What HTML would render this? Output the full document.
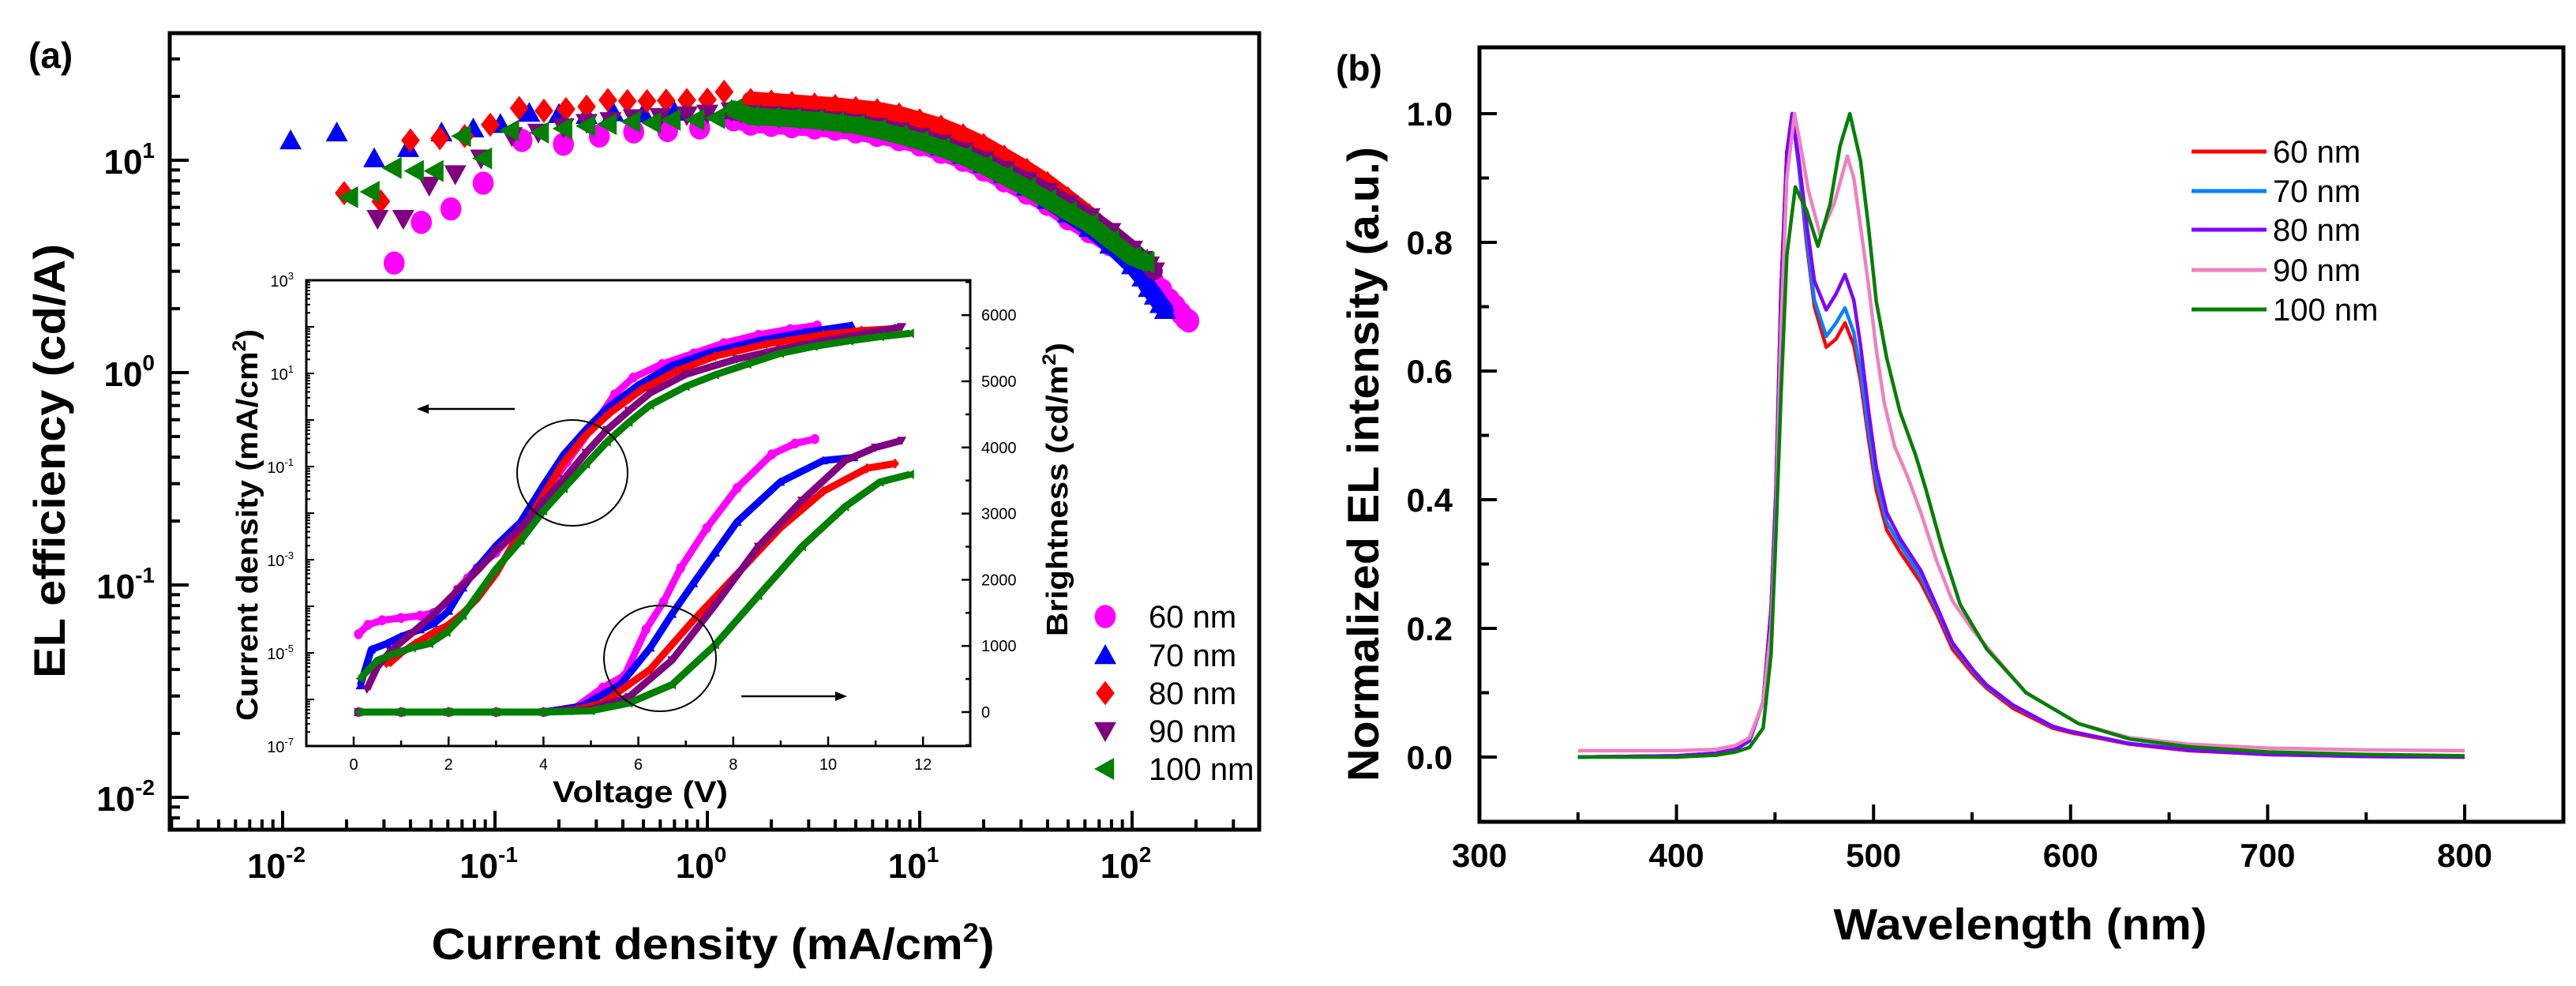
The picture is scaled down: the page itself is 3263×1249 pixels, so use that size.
<!DOCTYPE html>
<html><head><meta charset="utf-8"><style>
html,body{margin:0;padding:0;background:#fff;}
svg{display:block;font-family:"Liberation Sans",Arial,sans-serif;}
</style></head><body>
<svg id="fig" width="3263" height="1249" viewBox="0 0 3263 1249" xmlns="http://www.w3.org/2000/svg">
<rect x="0" y="0" width="3263" height="1249" fill="#fff"/>
<g id="panelA"></g>
<g id="panelB"></g>
<text x="36" y="86" font-size="46" font-weight="bold">(a)</text>
<text x="1692" y="102" font-size="46" font-weight="bold">(b)</text>
<text x="903" y="1215" font-size="56" font-weight="bold" text-anchor="middle" textLength="713" lengthAdjust="spacingAndGlyphs">Current density (mA/cm<tspan dy="-22" font-size="34">2</tspan><tspan dy="22">)</tspan></text>
<text transform="translate(82,584) rotate(-90)" font-size="56" font-weight="bold" text-anchor="middle" textLength="550" lengthAdjust="spacingAndGlyphs">EL efficiency (cd/A)</text>
<text x="811" y="1016" font-size="38" font-weight="bold" text-anchor="middle" textLength="222" lengthAdjust="spacingAndGlyphs">Voltage (V)</text>
<text transform="translate(326,665) rotate(-90)" font-size="38" font-weight="bold" text-anchor="middle" textLength="496" lengthAdjust="spacingAndGlyphs">Current density (mA/cm<tspan dy="-15" font-size="24">2</tspan><tspan dy="15">)</tspan></text>
<text transform="translate(1352,620) rotate(-90)" font-size="38" font-weight="bold" text-anchor="middle" textLength="372" lengthAdjust="spacingAndGlyphs">Brightness (cd/m<tspan dy="-15" font-size="24">2</tspan><tspan dy="15">)</tspan></text>
<text x="2559" y="1190" font-size="56" font-weight="bold" text-anchor="middle" textLength="473" lengthAdjust="spacingAndGlyphs">Wavelength (nm)</text>
<text transform="translate(1746,588) rotate(-90)" font-size="56" font-weight="bold" text-anchor="middle" textLength="804" lengthAdjust="spacingAndGlyphs">Normalized EL intensity (a.u.)</text>
</svg>
<script>
// ===== Panel (a) main data =====
const seriesNames = ["60 nm","70 nm","80 nm","90 nm","100 nm"];
const j60 = [0.0335,0.045,0.062,0.088,0.134,0.21,0.31,0.45,0.65,0.92,1.33,1.6,2,2.5,3.2,4,5,6.3,8,10,12.6,16,20,25,32,40,50,63,79,100,115,126,138,150,160,170,178,185];
const e60 = [3.28,5.1,5.9,7.8,12.4,11.9,13,13.6,13.8,14.2,15.5,14.8,14.6,14.4,14.2,14,13.6,13.1,12.5,11.8,10.9,10,9,8,7,6.2,5.3,4.6,4,3.4,3.0,2.7,2.45,2.2,2.05,1.9,1.8,1.75];
const j70 = [0.0109,0.018,0.027,0.039,0.056,0.079,0.106,0.145,0.2,0.27,0.36,0.5,0.7,1.0,1.3,1.6,2,2.5,3.2,4,5,6.3,8,10,12.6,16,20,25,32,40,50,63,79,100,112,120,128,136,143];
const e70 = [12.4,13.5,10.2,11.4,13.5,14.1,14.8,16.7,16.5,16.3,16.8,16.6,16.9,17.0,17.2,16.6,16.3,16.0,15.7,15.3,14.8,14.2,13.4,12.6,11.6,10.6,9.6,8.6,7.5,6.5,5.6,4.8,4.0,3.2,2.8,2.5,2.3,2.1,1.97];
const j80 = [0.0195,0.029,0.040,0.055,0.072,0.095,0.13,0.17,0.216,0.27,0.34,0.42,0.52,0.64,0.8,1.0,1.2,1.6,2,2.5,3.2,4,5,6.3,8,10,12.6,16,20,25,32,40,50,63,79,100];
const e80 = [7.0,6.4,12.4,12.7,13.0,14.7,17.6,17.1,17.4,17.9,19.2,19.0,19.0,19.1,19.2,19.3,21,19.2,18.9,18.6,18.3,18.0,17.6,17.2,16.4,15.4,14.4,13.1,11.8,10.4,9.0,7.8,6.6,5.5,4.5,3.6];
const j90 = [0.028,0.037,0.049,0.065,0.086,0.12,0.16,0.21,0.27,0.35,0.45,0.6,0.8,1.0,1.3,1.6,2,2.5,3.2,4,5,6.3,8,10,12.6,16,20,25,32,40,50,63,79,100,112,120,127];
const e90 = [5.3,5.3,7.6,8.6,10.2,13,13.5,14.3,15,15.3,15.8,16,16.3,16.6,17,16.5,16.3,16.1,15.8,15.4,15,14.4,13.7,12.9,12.0,11.0,10.0,9.0,8.0,7.1,6.2,5.4,4.6,3.8,3.4,3.2,3.0];
const j100 = [0.0206,0.026,0.033,0.042,0.052,0.07,0.088,0.118,0.163,0.21,0.27,0.34,0.44,0.55,0.68,0.88,1.1,1.33,1.6,2,2.5,3.2,4,5,6.3,8,10,12.6,16,20,25,32,40,50,63,79,100,108,116];
const e100 = [6.7,7.1,9.2,8.9,8.9,13,10.2,13.8,13.5,14.1,14.5,14.8,15.2,15,15.5,15.5,15.8,17.4,16.1,15.9,15.7,15.4,15,14.6,13.9,13.1,12.3,11.4,10.4,9.4,8.4,7.4,6.5,5.7,5.0,4.2,3.5,3.4,3.3];
const aXTickExps = [-2,-1,0,1,2];
const aYTickExps = [1,0,-1,-2];

// ===== Inset data =====
const vJ60 = [0.1,0.3,0.6,1.0,1.4,1.69,2.0,2.19,2.4,2.6,3.0,3.5,4.0,4.5,5.0,5.5,5.89,6.5,7.17,7.8,8.53,9.2,9.77];
const lJ60 = [-4.6,-4.4,-4.3,-4.25,-4.2,-4.14,-3.9,-3.64,-3.4,-3.18,-2.85,-2.3,-1.6,-0.9,-0.2,0.55,0.91,1.2,1.43,1.65,1.83,1.95,2.03];
const vJ70 = [0.14,0.37,0.7,1.0,1.4,1.69,2.0,2.3,2.6,3.0,3.52,4.0,4.43,4.9,5.34,6.0,6.71,7.5,8.53,9.5,10.5];
const lJ70 = [-5.7,-4.93,-4.8,-4.65,-4.5,-4.37,-4.1,-3.6,-3.18,-2.7,-2.19,-1.4,-0.74,-0.2,0.25,0.75,1.17,1.45,1.7,1.88,2.03];
const vJ80 = [0.69,0.78,1.0,1.3,1.69,2.0,2.3,2.6,3.0,3.33,3.97,4.4,4.88,5.4,6.07,6.8,7.62,8.7,9.9,10.7,11.4];
const lJ80 = [-5.22,-5.2,-5.0,-4.8,-4.56,-4.4,-4.15,-3.84,-3.3,-2.72,-1.66,-0.95,-0.34,0.15,0.65,1.05,1.37,1.63,1.83,1.92,1.96];
const vJ90 = [0.28,0.5,0.78,1.2,1.69,2.2,2.6,3.0,3.52,4.0,4.43,4.9,5.34,5.8,6.25,7.0,8.08,9.0,9.9,10.8,11.55];
const lJ90 = [-5.78,-5.3,-4.96,-4.6,-4.17,-3.65,-3.24,-2.8,-2.32,-1.75,-1.27,-0.7,-0.21,0.2,0.58,0.98,1.31,1.52,1.7,1.86,2.0];
const vJ100 = [0.14,0.5,0.9,1.23,1.6,1.96,2.3,2.6,3.0,3.52,4.0,4.43,4.9,5.34,5.8,6.25,7.0,7.62,8.3,8.99,9.7,10.45,11.1,11.73];
const lJ100 = [-5.55,-5.16,-5.0,-4.89,-4.8,-4.56,-4.2,-3.77,-3.2,-2.59,-1.95,-1.47,-0.95,-0.47,-0.05,0.32,0.72,0.97,1.2,1.43,1.58,1.7,1.79,1.86];
const vB60 = [0.1,1,2,3,4,4.6,5.25,5.71,6.16,6.53,6.89,7.44,8.08,8.81,9.3,9.72];
const bB60 = [0,0,0,0,0,30,370,552,1250,1666,2177,2781,3385,3895,4060,4127];
const vB70 = [0.1,1,2,3,4,4.8,5.62,6.25,6.71,7.16,7.62,8.08,8.99,9.9,10.54];
const bB70 = [0,0,0,0,0,88,414,971,1482,1946,2410,2874,3477,3802,3849];
const vB80 = [0.1,1,2,3,4,4.7,5.25,6.25,7.16,8.08,8.99,9.9,10.82,11.41];
const bB80 = [0,0,0,0,0,40,135,645,1388,2085,2781,3338,3686,3756];
const vB90 = [0.1,1,2,3,4,5,5.8,6.71,7.62,8.53,9.45,10.36,11.0,11.55];
const bB90 = [0,0,0,0,0,40,228,785,1620,2503,3199,3802,4000,4104];
const vB100 = [0.1,1,2,3,4,5,5.8,6.71,7.62,8.53,9.45,10.36,11.09,11.73];
const bB100 = [0,0,0,0,0,20,135,414,1017,1760,2503,3106,3477,3594];
const insetXTicks = [0,2,4,6,8,10,12];
const insetLeftExps = [3,1,-1,-3,-5,-7];
const insetRightTicks = [0,1000,2000,3000,4000,5000,6000];

// ===== Panel (b) data =====
const wlA = [350,400,420,430,437,444,448,450.5,453,456,458.7,462,466,470,476,481,485.5,490,493.4,497.4,501.4,506.7,513.4,524,532,540,550.7,557.4,570.7,590.8,600,630,660,700,750,800];
const s60 = [0,0.002,0.006,0.012,0.025,0.086,0.23,0.415,0.722,0.94,1.0,0.92,0.8,0.7,0.637,0.65,0.675,0.64,0.585,0.496,0.415,0.353,0.319,0.271,0.223,0.168,0.128,0.107,0.076,0.045,0.038,0.02,0.01,0.004,0.001,0];
const s70 = [0,0.002,0.006,0.012,0.025,0.086,0.23,0.415,0.722,0.94,1.0,0.92,0.81,0.71,0.654,0.675,0.698,0.66,0.6,0.51,0.43,0.365,0.33,0.28,0.23,0.175,0.133,0.11,0.08,0.047,0.04,0.021,0.011,0.004,0.001,0];
const s80 = [0,0.002,0.006,0.012,0.025,0.086,0.23,0.415,0.722,0.94,1.0,0.93,0.83,0.74,0.695,0.72,0.75,0.71,0.64,0.54,0.45,0.38,0.34,0.29,0.235,0.178,0.135,0.112,0.081,0.048,0.04,0.021,0.011,0.004,0.001,0];
const wl90 = [350,400,420,430,437,444,448,450.5,453,456,459.9,463,467,473,480,486.7,490,493.4,497.4,501.4,505.4,510.7,517.4,524,532,540,550.7,564,577.4,604,630,660,700,750,800];
const s90 = [0.01,0.01,0.012,0.018,0.03,0.085,0.2,0.37,0.66,0.9,1.0,0.95,0.88,0.811,0.86,0.934,0.9,0.825,0.735,0.633,0.551,0.483,0.435,0.38,0.305,0.243,0.196,0.148,0.10,0.052,0.03,0.02,0.014,0.011,0.01];
const wl100 = [350,400,420,430,437,444,448,450.5,453,456,460.3,466,471.8,478,483,488,493.4,497.4,501.4,506.7,513.4,521.4,526.7,534.7,544,557.4,577.4,604,630,660,700,750,800];
const s100 = [0,0,0.003,0.008,0.015,0.045,0.16,0.346,0.56,0.78,0.886,0.85,0.794,0.86,0.95,1.0,0.927,0.825,0.708,0.62,0.537,0.469,0.415,0.326,0.237,0.168,0.10,0.052,0.028,0.016,0.008,0.004,0.002];
const bXTicks = [300,400,500,600,700,800];
const bYTicks = [0.0,0.2,0.4,0.6,0.8,1.0];

const NS = "http://www.w3.org/2000/svg";
function mk(parent, tag, attrs, txt){
  const el = document.createElementNS(NS, tag);
  for (const k in attrs) el.setAttribute(k, attrs[k]);
  if (txt !== undefined) el.textContent = txt;
  parent.appendChild(el);
  return el;
}
const A = document.getElementById("panelA");
const B = document.getElementById("panelB");

const ax = v => 896 + 269 * Math.log10(v);
const ay = v => 472 - 269 * Math.log10(v);
const AL = 215, AR = 1595, AT = 42, AB = 1051;

let fr = mk(A, "rect", {x:AL, y:AT, width:AR-AL, height:AB-AT, fill:"none", stroke:"#000", "stroke-width":5});



for (let d = -3; d <= 2; d++) {
  for (let m = 1; m <= 9; m++) {
    const v = m * Math.pow(10, d);
    const x = ax(v);
    if (x < AL + 2 || x > AR - 2) continue;
    const len = m === 1 ? 24 : 13;
    const t = mk(A, "line", {x1:x, y1:AB, x2:x, y2:AB-len, stroke:"#000", "stroke-width":4});
    
    
  }
}
aXTickExps.forEach(e => {
  const x = ax(Math.pow(10, e));
  const t = mk(A, "text", {x:x-8, y:1112, "font-size":44, "font-weight":"bold", "text-anchor":"middle"});
  t.innerHTML = '10<tspan dy="-20" font-size="28">' + e + '</tspan>';
  
  
});
for (let d = -3; d <= 1; d++) {
  for (let m = 1; m <= 9; m++) {
    const v = m * Math.pow(10, d);
    const y = ay(v);
    if (y < AT + 2 || y > AB - 2) continue;
    const len = m === 1 ? 24 : 13;
    const t = mk(A, "line", {x1:AL, y1:y, x2:AL+len, y2:y, stroke:"#000", "stroke-width":4});
    
    
  }
}
aYTickExps.forEach(e => {
  const y = ay(Math.pow(10, e));
  const t = mk(A, "text", {x:196, y:y+17, "font-size":44, "font-weight":"bold", "text-anchor":"end"});
  t.innerHTML = '10<tspan dy="-20" font-size="28">' + e + '</tspan>';
  
  
});

function marker(parent, shape, cx, cy, s, color){
  let el;
  const h = s/2;
  if (shape === "circle") el = mk(parent, "ellipse", {cx:cx, cy:cy, rx:h*0.95, ry:h*1.05, fill:color});
  else if (shape === "up") el = mk(parent, "polygon", {points:`${cx},${cy-h} ${cx+h},${cy+h*0.8} ${cx-h},${cy+h*0.8}`, fill:color});
  else if (shape === "down") el = mk(parent, "polygon", {points:`${cx},${cy+h} ${cx+h},${cy-h*0.8} ${cx-h},${cy-h*0.8}`, fill:color});
  else if (shape === "diamond") el = mk(parent, "polygon", {points:`${cx},${cy-h*1.1} ${cx+h*0.85},${cy} ${cx},${cy+h*1.1} ${cx-h*0.85},${cy}`, fill:color});
  else el = mk(parent, "polygon", {points:`${cx-h},${cy} ${cx+h*0.8},${cy-h} ${cx+h*0.8},${cy+h}`, fill:color});
  return el;
}
const aColors = ["#ff00ff","#0000ff","#ff0000","#800080","#008000"];
const aShapes = ["circle","up","diamond","down","left"];
const aJ = [j60,j70,j80,j90,j100];
const aE = [e60,e70,e80,e90,e100];
aJ.forEach((js, i) => {
  const g = mk(A, "g", {});
  
  
  const dense = [];
  js.forEach((j, k) => { if (j >= 1.3) dense.push(ax(j).toFixed(1) + "," + ay(aE[i][k]).toFixed(1)); });
  const band = mk(g, "polyline", {points:dense.join(" "), fill:"none", stroke:aColors[i], "stroke-width":22, "stroke-linejoin":"round", "stroke-linecap":"round"});
  
  
  js.forEach((j, k) => {
    const m = marker(g, aShapes[i], ax(j), ay(aE[i][k]), 28, aColors[i]);
    
    
  });
});
const legY = [781,830,878,926,974];
seriesNames.forEach((n, i) => {
  const m = marker(A, aShapes[i], 1400, legY[i], 28, aColors[i]);
  
  
  const t = mk(A, "text", {x:1455, y:legY[i]+14, "font-size":40}, n);
  
  
});

// ---- Inset ----
const IL = 388, IR = 1229, IT = 355, IB = 945;
const ix = v => 448 + 60.1 * v;
const iyJ = l => 355 + (3 - l) * 59;
const iyB = b => 902 - b * 0.0838;
const I = mk(A, "g", {});


let ifr = mk(I, "rect", {x:IL, y:IT, width:IR-IL, height:IB-IT, fill:"#fff", stroke:"#000", "stroke-width":3});


for (let v = -1; v <= 13; v++) {
  const x = ix(v);
  if (x <= IL || x >= IR) continue;
  const t = mk(I, "line", {x1:x, y1:IB, x2:x, y2:IB-(v%2===0?12:7), stroke:"#000", "stroke-width":2.5});
  
  
}
insetXTicks.forEach(v => {
  const t = mk(I, "text", {x:ix(v), y:975, "font-size":20, "text-anchor":"middle"}, String(v));
  
  
});
for (let d = -7; d < 3; d++) {
  for (let m = 1; m <= 9; m++) {
    const y = iyJ(d + Math.log10(m));
    const t = mk(I, "line", {x1:IL, y1:y, x2:IL+(m===1?10:5), y2:y, stroke:"#000", "stroke-width":2});
    
    
  }
}
insetLeftExps.forEach(e => {
  const t = mk(I, "text", {x:372, y:iyJ(e)+8, "font-size":20, "text-anchor":"end"});
  t.innerHTML = '10<tspan dy="-9" font-size="13">' + e + '</tspan>';
  
  
});
for (let b = -500; b <= 6500; b += 500) {
  const y = iyB(b);
  if (y <= IT || y >= IB) continue;
  const t = mk(I, "line", {x1:IR, y1:y, x2:IR-(b%1000===0?11:6), y2:y, stroke:"#000", "stroke-width":2.5});
  
  
}
insetRightTicks.forEach(b => {
  const t = mk(I, "text", {x:1243, y:iyB(b)+7, "font-size":20}, String(b));
  
  
});
const iVJ = [vJ60,vJ70,vJ80,vJ90,vJ100], iLJ = [lJ60,lJ70,lJ80,lJ90,lJ100];
const iVB = [vB60,vB70,vB80,vB90,vB100], iBB = [bB60,bB70,bB80,bB90,bB100];
for (let i = 0; i < 5; i++) {
  const g = mk(I, "g", {});
  
  
  const pts = iVJ[i].map((v,k) => ix(v) + "," + iyJ(iLJ[i][k])).join(" ");
  const pl = mk(g, "polyline", {points:pts, fill:"none", stroke:aColors[i], "stroke-width":9, "stroke-linejoin":"round"});
  
  
  iVJ[i].forEach((v,k) => {
    const m = marker(g, aShapes[i], ix(v), iyJ(iLJ[i][k]), 12, aColors[i]);
    
    
  });
}
for (let i = 0; i < 5; i++) {
  const g = mk(I, "g", {});
  
  
  const pts = iVB[i].map((v,k) => ix(v) + "," + iyB(iBB[i][k])).join(" ");
  const pl = mk(g, "polyline", {points:pts, fill:"none", stroke:aColors[i], "stroke-width":9, "stroke-linejoin":"round"});
  
  
  iVB[i].forEach((v,k) => {
    const m = marker(g, aShapes[i], ix(v), iyB(iBB[i][k]), 12, aColors[i]);
    
    
  });
}
let c1 = mk(I, "ellipse", {cx:725, cy:599, rx:70, ry:67, fill:"none", stroke:"#000", "stroke-width":2});


let c2 = mk(I, "ellipse", {cx:836, cy:834, rx:71, ry:67, fill:"none", stroke:"#000", "stroke-width":2});


let a1 = mk(I, "line", {x1:652, y1:518, x2:540, y2:518, stroke:"#000", "stroke-width":2.5});


let a1h = mk(I, "polygon", {points:"528,518 543,512 543,524", fill:"#000"});


let a2 = mk(I, "line", {x1:939, y1:882, x2:1060, y2:882, stroke:"#000", "stroke-width":2.5});


let a2h = mk(I, "polygon", {points:"1073,882 1058,876 1058,888", fill:"#000"});



// ---- Panel (b) ----
const BL = 1874, BR = 3247, BT = 60, BBt = 1041;
const bx = w => 1874 + (w - 300) * 2.496;
const by = v => 959 - v * 815;
let bfr = mk(B, "rect", {x:BL, y:BT, width:BR-BL, height:BBt-BT, fill:"none", stroke:"#000", "stroke-width":5});


for (let w = 350; w <= 800; w += 50) {
  const t = mk(B, "line", {x1:bx(w), y1:BBt, x2:bx(w), y2:BBt-(w%100===0?22:12), stroke:"#000", "stroke-width":4});
  
  
}
bXTicks.forEach(w => {
  const t = mk(B, "text", {x:bx(w), y:1098, "font-size":42, "font-weight":"bold", "text-anchor":"middle"}, String(w));
  
  
});
for (let k = 0; k <= 10; k++) {
  const v = k / 10;
  const t = mk(B, "line", {x1:BL, y1:by(v), x2:BL+(k%2===0?22:12), y2:by(v), stroke:"#000", "stroke-width":4});
  
  
}
bYTicks.forEach(v => {
  const t = mk(B, "text", {x:1840, y:by(v)+15, "font-size":42, "font-weight":"bold", "text-anchor":"end"}, v.toFixed(1));
  
  
});
const bColors = ["#ff0000","#0080ff","#8000ff","#f080c0","#008000"];
const bW = [wlA, wlA, wlA, wl90, wl100];
const bS = [s60, s70, s80, s90, s100];
for (let i = 0; i < 5; i++) {
  const pts = bW[i].map((w,k) => bx(w).toFixed(1) + "," + by(bS[i][k]).toFixed(1)).join(" ");
  const pl = mk(B, "polyline", {points:pts, fill:"none", stroke:bColors[i], "stroke-width":4.5, "stroke-linejoin":"round"});
  
  
}
const bLegY = [192,242,291,342,392];
seriesNames.forEach((n, i) => {
  const l = mk(B, "line", {x1:2776, y1:bLegY[i], x2:2871, y2:bLegY[i], stroke:bColors[i], "stroke-width":5});
  
  
  const t = mk(B, "text", {x:2879, y:bLegY[i]+14, "font-size":40}, n);
  
  
});
</script>
</body></html>
